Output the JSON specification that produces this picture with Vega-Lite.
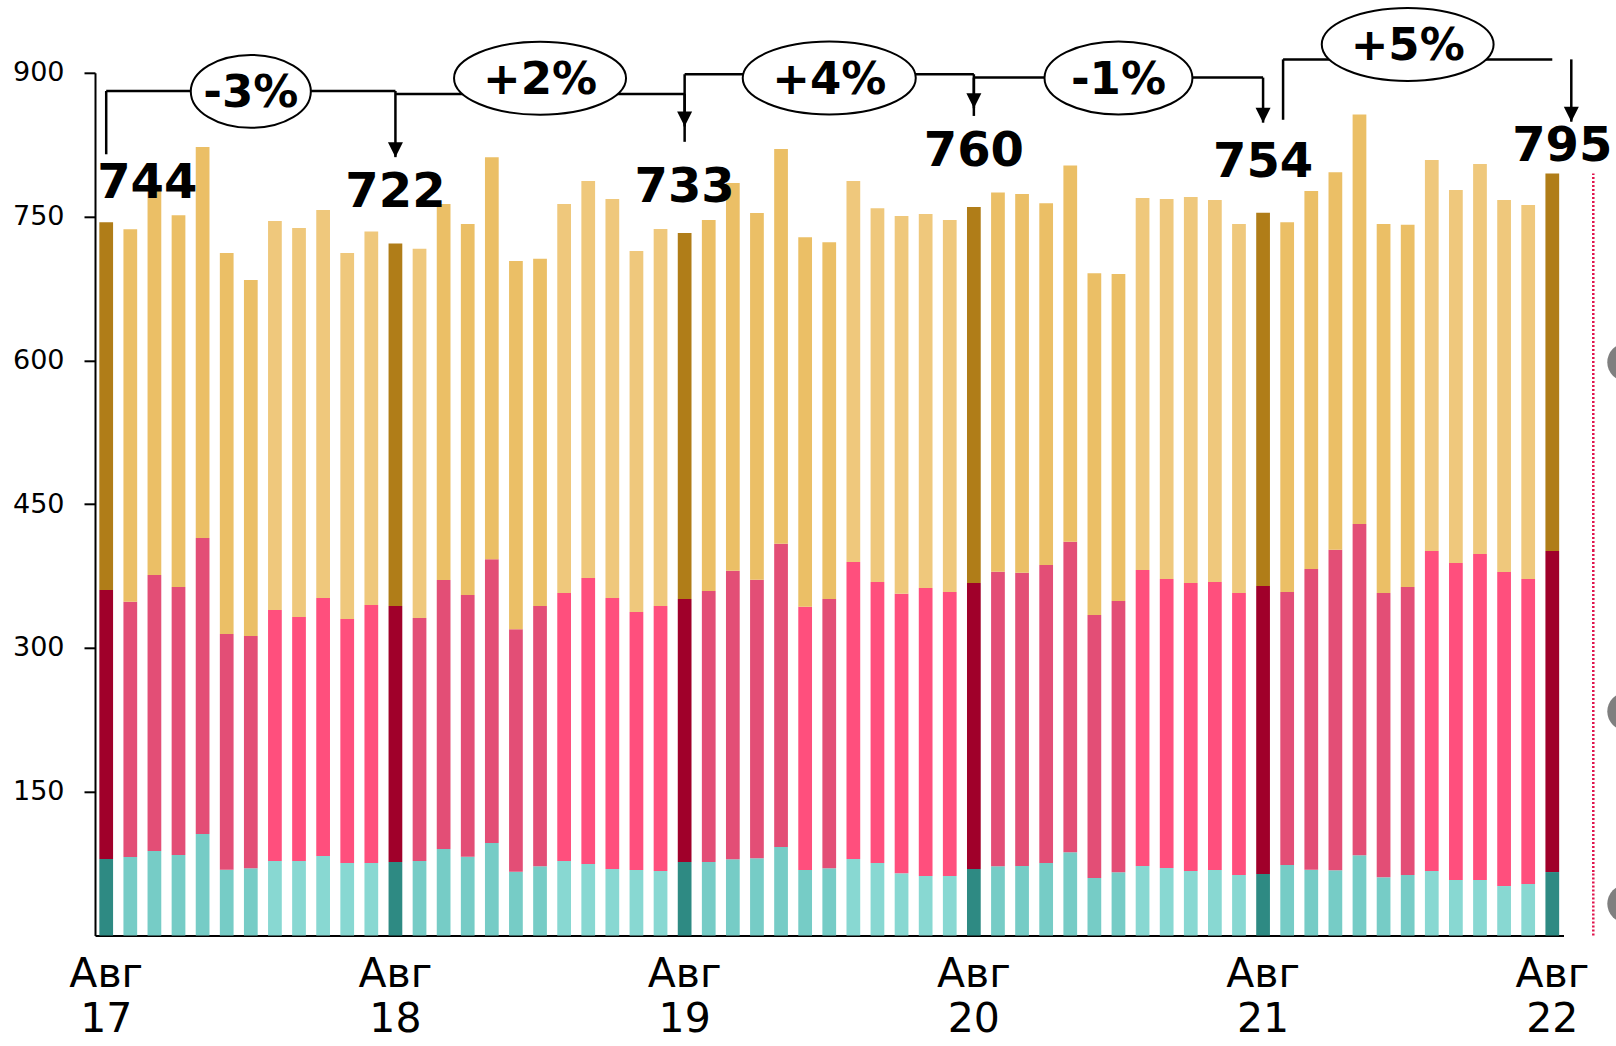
{
  "$schema": "https://vega.github.io/schema/vega-lite/v6.json",
  "width": 1468.5,
  "height": 862.7,
  "autosize": {"type": "none"},
  "padding": {"left": 95, "top": 72.8, "right": 52.5, "bottom": 110.5},
  "background": "white",
  "config": {"view": {"stroke": null}, "font": "DejaVu Sans"},
  "datasets": {
    "bars": [
      {"m":"2017-08","p":"aug","a":79.8,"b":280.7,"c":383.5},
      {"m":"2017-09","p":"win","a":81.9,"b":266.4,"c":388.5},
      {"m":"2017-10","p":"win","a":88.2,"b":287.9,"c":405.9},
      {"m":"2017-11","p":"win","a":84.0,"b":279.6,"c":387.8},
      {"m":"2017-12","p":"win","a":105.9,"b":308.8,"c":407.9},
      {"m":"2018-01","p":"win","a":68.7,"b":245.9,"c":397.5},
      {"m":"2018-02","p":"win","a":70.1,"b":242.4,"c":371.4},
      {"m":"2018-03","p":"sum","a":77.7,"b":261.9,"c":405.8},
      {"m":"2018-04","p":"sum","a":77.7,"b":254.6,"c":405.8},
      {"m":"2018-05","p":"sum","a":82.9,"b":269.2,"c":404.8},
      {"m":"2018-06","p":"sum","a":75.6,"b":254.6,"c":381.9},
      {"m":"2018-07","p":"sum","a":75.6,"b":269.2,"c":389.6},
      {"m":"2018-08","p":"aug","a":76.7,"b":267.1,"c":378.2},
      {"m":"2018-09","p":"win","a":77.7,"b":253.6,"c":385.2,"pc":"sum"},
      {"m":"2018-10","p":"win","a":90.2,"b":280.7,"c":392.3},
      {"m":"2018-11","p":"win","a":82.2,"b":273.0,"c":387.1},
      {"m":"2018-12","p":"win","a":96.5,"b":296.0,"c":419.4},
      {"m":"2019-01","p":"win","a":66.6,"b":252.9,"c":384.2},
      {"m":"2019-02","p":"win","a":72.3,"b":271.5,"c":362.3},
      {"m":"2019-03","p":"sum","a":77.7,"b":279.6,"c":405.9},
      {"m":"2019-04","p":"sum","a":74.6,"b":298.4,"c":414.2},
      {"m":"2019-05","p":"sum","a":69.4,"b":282.7,"c":416.3},
      {"m":"2019-06","p":"sum","a":68.3,"b":269.2,"c":376.6},
      {"m":"2019-07","p":"sum","a":67.3,"b":276.5,"c":393.3},
      {"m":"2019-08","p":"aug","a":76.7,"b":274.4,"c":381.9},
      {"m":"2019-09","p":"win","a":76.7,"b":282.7,"c":387.1},
      {"m":"2019-10","p":"win","a":79.5,"b":301.1,"c":404.5},
      {"m":"2019-11","p":"win","a":80.5,"b":290.7,"c":382.6},
      {"m":"2019-12","p":"win","a":92.3,"b":316.5,"c":411.8},
      {"m":"2020-01","p":"win","a":68.3,"b":274.7,"c":385.4,"pb":"sum"},
      {"m":"2020-02","p":"win","a":70.1,"b":281.0,"c":372.1},
      {"m":"2020-03","p":"sum","a":79.8,"b":309.9,"c":397.5},
      {"m":"2020-04","p":"sum","a":75.6,"b":293.2,"c":389.9},
      {"m":"2020-05","p":"sum","a":64.9,"b":291.7,"c":394.1},
      {"m":"2020-06","p":"sum","a":62.1,"b":300.4,"c":390.3},
      {"m":"2020-07","p":"sum","a":62.1,"b":296.3,"c":388.1},
      {"m":"2020-08","p":"aug","a":69.4,"b":298.4,"c":392.2},
      {"m":"2020-09","p":"win","a":72.2,"b":307.4,"c":395.4},
      {"m":"2020-10","p":"win","a":72.5,"b":306.0,"c":395.1},
      {"m":"2020-11","p":"win","a":75.6,"b":310.9,"c":377.4},
      {"m":"2020-12","p":"win","a":86.8,"b":324.1,"c":392.3},
      {"m":"2021-01","p":"win","a":60.0,"b":274.4,"c":356.5},
      {"m":"2021-02","p":"win","a":65.9,"b":283.1,"c":341.1},
      {"m":"2021-03","p":"sum","a":72.5,"b":308.8,"c":388.1},
      {"m":"2021-04","p":"sum","a":70.4,"b":301.5,"c":396.5},
      {"m":"2021-05","p":"sum","a":67.3,"b":300.5,"c":402.7},
      {"m":"2021-06","p":"sum","a":68.3,"b":300.5,"c":398.5},
      {"m":"2021-07","p":"sum","a":63.1,"b":294.2,"c":385.0},
      {"m":"2021-08","p":"aug","a":64.2,"b":300.4,"c":389.4},
      {"m":"2021-09","p":"win","a":73.6,"b":284.8,"c":385.7},
      {"m":"2021-10","p":"win","a":68.7,"b":313.7,"c":394.3},
      {"m":"2021-11","p":"win","a":68.0,"b":334.5,"c":393.7},
      {"m":"2021-12","p":"win","a":83.7,"b":345.6,"c":427.1},
      {"m":"2022-01","p":"win","a":60.7,"b":296.6,"c":385.0},
      {"m":"2022-02","p":"win","a":63.1,"b":300.5,"c":378.0},
      {"m":"2022-03","p":"sum","a":67.3,"b":333.8,"c":408.0},
      {"m":"2022-04","p":"sum","a":57.9,"b":330.7,"c":389.2},
      {"m":"2022-05","p":"sum","a":57.9,"b":340.1,"c":406.9},
      {"m":"2022-06","p":"sum","a":51.6,"b":327.6,"c":388.1},
      {"m":"2022-07","p":"sum","a":53.7,"b":318.2,"c":390.1},
      {"m":"2022-08","p":"aug","a":66.2,"b":334.9,"c":393.9}
    ],
    "br": [
      {"a":"2017-08","b":"2018-08","mid":"2018-02","pct":"-3%","L":881,"s0":815,"e0":812,"E":880.6},
      {"a":"2018-08","b":"2019-08","mid":"2019-02","pct":"+2%","L":878,"s0":878,"e0":844,"E":894.3},
      {"a":"2019-08","b":"2020-08","mid":"2020-02","pct":"+4%","L":898.5,"s0":828,"e0":863,"E":894.6},
      {"a":"2020-08","b":"2021-08","mid":"2021-02","pct":"-1%","L":895,"s0":855,"e0":848,"E":894.6},
      {"a":"2021-08","b":"2022-08","mid":"2022-02","pct":"+5%","L":914,"s0":851,"e0":849,"E":929.6}
    ]
  },
  "layer": [
    {
      "data": {"name": "bars"},
      "transform": [
        {"fold": ["a", "b", "c"], "as": ["s", "v"]},
        {"calculate": "datum.s == 'b' && datum.pb ? datum.pb : (datum.s == 'c' && datum.pc ? datum.pc : datum.p)", "as": "tone"},
        {"calculate": "datum.s + '-' + datum.tone", "as": "key"}
      ],
      "mark": {"type": "bar"},
      "encoding": {
        "x": {
          "field": "m", "type": "ordinal", "title": null,
          "scale": {
            "type": "band", "paddingInner": 0.43, "paddingOuter": 0.18,
            "domain": ["2017-08","2017-09","2017-10","2017-11","2017-12","2018-01","2018-02","2018-03","2018-04","2018-05","2018-06","2018-07","2018-08","2018-09","2018-10","2018-11","2018-12","2019-01","2019-02","2019-03","2019-04","2019-05","2019-06","2019-07","2019-08","2019-09","2019-10","2019-11","2019-12","2020-01","2020-02","2020-03","2020-04","2020-05","2020-06","2020-07","2020-08","2020-09","2020-10","2020-11","2020-12","2021-01","2021-02","2021-03","2021-04","2021-05","2021-06","2021-07","2021-08","2021-09","2021-10","2021-11","2021-12","2022-01","2022-02","2022-03","2022-04","2022-05","2022-06","2022-07","2022-08"]
          },
          "axis": {
            "values": ["2017-08","2018-08","2019-08","2020-08","2021-08","2022-08"],
            "labelExpr": "['Авг', substring(datum.value, 2, 4)]",
            "ticks": false, "labelAngle": 0, "labelOverlap": false,
            "labelFont": "DejaVu Sans", "labelFontSize": 41, "labelLineHeight": 45,
            "labelPadding": 19, "labelColor": "black",
            "domainColor": "black", "domainWidth": 2, "title": null
          }
        },
        "y": {
          "field": "v", "type": "quantitative", "stack": "zero", "title": null,
          "scale": {"domain": [0, 900], "nice": false},
          "axis": {
            "values": [150, 300, 450, 600, 750, 900],
            "labelFont": "DejaVu Sans", "labelFontSize": 27, "labelColor": "black",
            "tickColor": "black", "tickWidth": 2, "tickSize": 11, "labelPadding": 20,
            "domainColor": "black", "domainWidth": 2, "grid": false, "title": null
          }
        },
        "order": {"field": "s", "sort": "ascending"},
        "color": {
          "field": "key", "type": "nominal", "legend": null,
          "scale": {
            "domain": ["a-aug","a-win","a-sum","b-aug","b-win","b-sum","c-aug","c-win","c-sum"],
            "range": ["#2e8a83","#76ccc6","#88d8d2","#a0002a","#e34e76","#ff4f7d","#b07d18","#ebbf66","#efc87c"]
          }
        }
      }
    },
    {
      "data": {"name": "bars"},
      "transform": [
        {"filter": "datum.m == '2017-08'"},
        {"calculate": "datum.a + datum.b + datum.c", "as": "tot"}
      ],
      "mark": {"type": "text", "font": "DejaVu Sans", "fontSize": 48, "fontWeight": "bold", "color": "black", "align": "left", "baseline": "alphabetic", "dx": -9, "dy": -24},
      "encoding": {
        "x": {"field": "m", "type": "ordinal", "title": null},
        "y": {"field": "tot", "type": "quantitative", "scale": {"domain": [0, 900], "nice": false}, "title": null},
        "text": {"field": "tot", "type": "quantitative", "format": ".0f"}
      }
    },
    {
      "data": {"name": "bars"},
      "transform": [
        {"filter": {"field": "m", "oneOf": ["2018-08", "2021-08"]}},
        {"calculate": "datum.a + datum.b + datum.c", "as": "tot"}
      ],
      "mark": {"type": "text", "font": "DejaVu Sans", "fontSize": 48, "fontWeight": "bold", "color": "black", "align": "center", "baseline": "alphabetic", "dy": -36},
      "encoding": {
        "x": {"field": "m", "type": "ordinal", "title": null},
        "y": {"field": "tot", "type": "quantitative", "scale": {"domain": [0, 900], "nice": false}, "title": null},
        "text": {"field": "tot", "type": "quantitative", "format": ".0f"}
      }
    },
    {
      "data": {"name": "bars"},
      "transform": [
        {"filter": "datum.m == '2019-08'"},
        {"calculate": "datum.a + datum.b + datum.c", "as": "tot"}
      ],
      "mark": {"type": "text", "font": "DejaVu Sans", "fontSize": 48, "fontWeight": "bold", "color": "black", "align": "center", "baseline": "alphabetic", "dy": -31},
      "encoding": {
        "x": {"field": "m", "type": "ordinal", "title": null},
        "y": {"field": "tot", "type": "quantitative", "scale": {"domain": [0, 900], "nice": false}, "title": null},
        "text": {"field": "tot", "type": "quantitative", "format": ".0f"}
      }
    },
    {
      "data": {"name": "bars"},
      "transform": [
        {"filter": "datum.m == '2020-08'"},
        {"calculate": "datum.a + datum.b + datum.c", "as": "tot"}
      ],
      "mark": {"type": "text", "font": "DejaVu Sans", "fontSize": 48, "fontWeight": "bold", "color": "black", "align": "center", "baseline": "alphabetic", "dy": -41},
      "encoding": {
        "x": {"field": "m", "type": "ordinal", "title": null},
        "y": {"field": "tot", "type": "quantitative", "scale": {"domain": [0, 900], "nice": false}, "title": null},
        "text": {"field": "tot", "type": "quantitative", "format": ".0f"}
      }
    },
    {
      "data": {"name": "bars"},
      "transform": [
        {"filter": "datum.m == '2022-08'"},
        {"calculate": "datum.a + datum.b + datum.c", "as": "tot"}
      ],
      "mark": {"type": "text", "font": "DejaVu Sans", "fontSize": 48, "fontWeight": "bold", "color": "black", "align": "center", "baseline": "alphabetic", "dx": 10, "dy": -12},
      "encoding": {
        "x": {"field": "m", "type": "ordinal", "title": null},
        "y": {"field": "tot", "type": "quantitative", "scale": {"domain": [0, 900], "nice": false}, "title": null},
        "text": {"field": "tot", "type": "quantitative", "format": ".0f"}
      }
    },
    {
      "data": {"name": "br"},
      "transform": [{"filter": "datum.pct != '+5%'"}],
      "mark": {"type": "rule", "color": "black", "strokeWidth": 2.5},
      "encoding": {
        "x": {"field": "a", "type": "ordinal", "title": null},
        "y": {"field": "s0", "type": "quantitative", "scale": {"domain": [0, 900], "nice": false}, "title": null},
        "y2": {"field": "L"}
      }
    },
    {
      "data": {"name": "br"},
      "transform": [{"filter": "datum.pct != '+5%'"}],
      "mark": {"type": "rule", "color": "black", "strokeWidth": 2.5},
      "encoding": {
        "x": {"field": "a", "type": "ordinal", "title": null},
        "x2": {"field": "b"},
        "y": {"field": "L", "type": "quantitative", "scale": {"domain": [0, 900], "nice": false}, "title": null}
      }
    },
    {
      "data": {"name": "br"},
      "transform": [{"filter": "datum.pct != '+5%'"}],
      "mark": {"type": "rule", "color": "black", "strokeWidth": 2.5},
      "encoding": {
        "x": {"field": "b", "type": "ordinal", "title": null},
        "y": {"field": "L", "type": "quantitative", "scale": {"domain": [0, 900], "nice": false}, "title": null},
        "y2": {"field": "e0"}
      }
    },
    {
      "data": {"name": "br"},
      "transform": [{"filter": "datum.pct != '+5%'"}],
      "mark": {"type": "point", "shape": "M0,0L-0.5,-1L0.5,-1Z", "size": 900, "filled": true, "color": "black", "opacity": 1},
      "encoding": {
        "x": {"field": "b", "type": "ordinal", "title": null},
        "y": {"field": "e0", "type": "quantitative", "scale": {"domain": [0, 900], "nice": false}, "title": null}
      }
    },
    {
      "data": {"name": "br"},
      "transform": [{"filter": "datum.pct == '+5%'"}],
      "mark": {"type": "rule", "color": "black", "strokeWidth": 2.5, "xOffset": 20},
      "encoding": {
        "x": {"field": "a", "type": "ordinal", "title": null},
        "y": {"field": "s0", "type": "quantitative", "scale": {"domain": [0, 900], "nice": false}, "title": null},
        "y2": {"field": "L"}
      }
    },
    {
      "data": {"name": "br"},
      "transform": [{"filter": "datum.pct == '+5%'"}],
      "mark": {"type": "rule", "color": "black", "strokeWidth": 2.5, "xOffset": 20},
      "encoding": {
        "x": {"field": "a", "type": "ordinal", "title": null},
        "x2": {"field": "b"},
        "y": {"field": "L", "type": "quantitative", "scale": {"domain": [0, 900], "nice": false}, "title": null}
      }
    },
    {
      "data": {"name": "br"},
      "transform": [{"filter": "datum.pct == '+5%'"}],
      "mark": {"type": "rule", "color": "black", "strokeWidth": 2.5, "xOffset": 19},
      "encoding": {
        "x": {"field": "b", "type": "ordinal", "title": null},
        "y": {"field": "L", "type": "quantitative", "scale": {"domain": [0, 900], "nice": false}, "title": null},
        "y2": {"field": "e0"}
      }
    },
    {
      "data": {"name": "br"},
      "transform": [{"filter": "datum.pct == '+5%'"}],
      "mark": {"type": "point", "shape": "M0,0L-0.5,-1L0.5,-1Z", "size": 900, "filled": true, "color": "black", "opacity": 1, "xOffset": 19},
      "encoding": {
        "x": {"field": "b", "type": "ordinal", "title": null},
        "y": {"field": "e0", "type": "quantitative", "scale": {"domain": [0, 900], "nice": false}, "title": null}
      }
    },
    {
      "data": {"name": "br"},
      "mark": {"type": "point", "size": 29584, "filled": true, "fill": "white", "stroke": "black", "strokeWidth": 2, "opacity": 1, "fillOpacity": 1, "strokeOpacity": 1},
      "encoding": {
        "x": {"field": "mid", "type": "ordinal", "title": null},
        "y": {"field": "E", "type": "quantitative", "scale": {"domain": [0, 900], "nice": false}, "title": null},
        "shape": {
          "field": "pct", "type": "nominal", "legend": null,
          "scale": {
            "domain": ["-3%", "+2%", "+4%", "-1%", "+5%"],
            "range": [
              "M-0.698,0C-0.698,-0.234,-0.385,-0.424,0,-0.424C0.385,-0.424,0.698,-0.234,0.698,0C0.698,0.234,0.385,0.424,0,0.424C-0.385,0.424,-0.698,0.234,-0.698,0Z",
              "M-1,0C-1,-0.234,-0.552,-0.424,0,-0.424C0.552,-0.424,1,-0.234,1,0C1,0.234,0.552,0.424,0,0.424C-0.552,0.424,-1,0.234,-1,0Z",
              "M-1.006,0C-1.006,-0.234,-0.555,-0.424,0,-0.424C0.555,-0.424,1.006,-0.234,1.006,0C1.006,0.234,0.555,0.424,0,0.424C-0.555,0.424,-1.006,0.234,-1.006,0Z",
              "M-0.86,0C-0.86,-0.234,-0.475,-0.424,0,-0.424C0.475,-0.424,0.86,-0.234,0.86,0C0.86,0.234,0.475,0.424,0,0.424C-0.475,0.424,-0.86,0.234,-0.86,0Z",
              "M-0.999,0C-0.999,-0.234,-0.551,-0.424,0,-0.424C0.551,-0.424,0.999,-0.234,0.999,0C0.999,0.234,0.551,0.424,0,0.424C-0.551,0.424,-0.999,0.234,-0.999,0Z"
            ]
          }
        }
      }
    },
    {
      "data": {"name": "br"},
      "mark": {"type": "text", "font": "DejaVu Sans", "fontSize": 45, "fontWeight": "bold", "color": "black", "align": "center", "baseline": "alphabetic", "dy": 16},
      "encoding": {
        "x": {"field": "mid", "type": "ordinal", "title": null},
        "y": {"field": "E", "type": "quantitative", "scale": {"domain": [0, 900], "nice": false}, "title": null},
        "text": {"field": "pct", "type": "nominal"}
      }
    },
    {
      "data": {"name": "bars"},
      "transform": [
        {"filter": "datum.m == '2022-08'"},
        {"fold": ["a", "b", "c"], "as": ["s", "v"]},
        {"stack": "v", "groupby": ["m"], "sort": [{"field": "s", "order": "ascending"}], "as": ["v0", "v1"]}
      ],
      "mark": {"type": "rule", "color": "#e0144c", "strokeWidth": 2.5, "strokeDash": [2, 2], "xOffset": 41},
      "encoding": {
        "x": {"field": "m", "type": "ordinal", "title": null},
        "y": {"field": "v0", "type": "quantitative", "scale": {"domain": [0, 900], "nice": false}, "title": null},
        "y2": {"field": "v1"}
      }
    },
    {
      "data": {"name": "bars"},
      "transform": [
        {"filter": "datum.m == '2022-08'"},
        {"fold": ["a", "b", "c"], "as": ["s", "v"]},
        {"stack": "v", "groupby": ["m"], "sort": [{"field": "s", "order": "ascending"}], "as": ["v0", "v1"]},
        {"calculate": "(datum.v0 + datum.v1) / 2", "as": "vm"}
      ],
      "mark": {"type": "point", "shape": "circle", "size": 1444, "filled": true, "color": "#7f7f7f", "opacity": 1, "xOffset": 74},
      "encoding": {
        "x": {"field": "m", "type": "ordinal", "title": null},
        "y": {"field": "vm", "type": "quantitative", "scale": {"domain": [0, 900], "nice": false}, "title": null}
      }
    }
  ]
}
